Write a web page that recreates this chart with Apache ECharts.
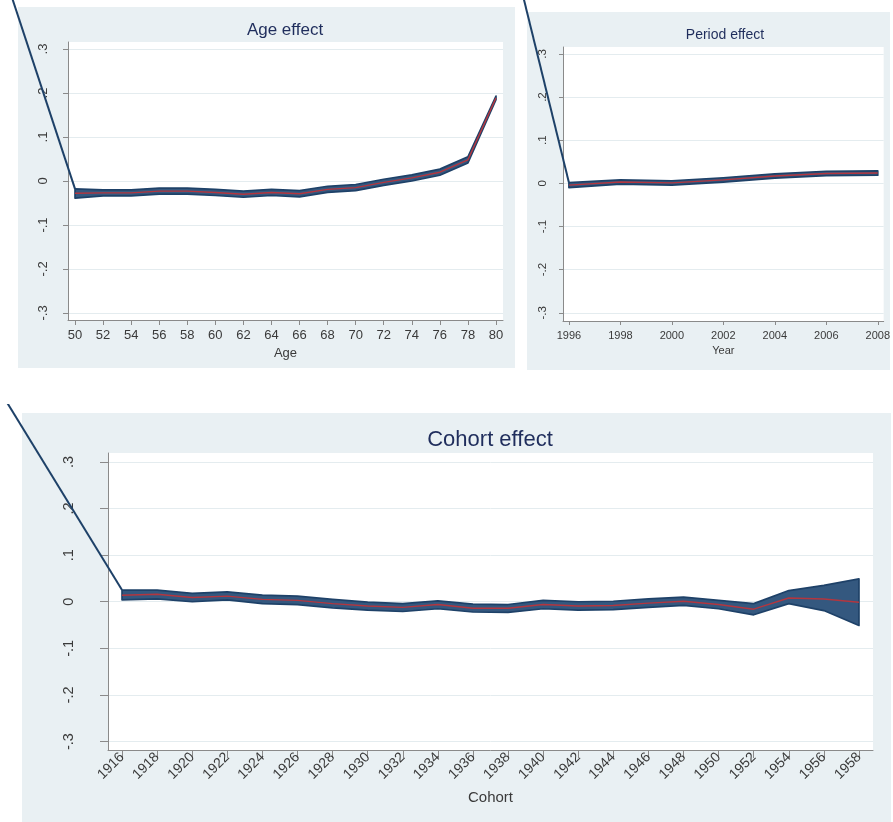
<!DOCTYPE html>
<html>
<head>
<meta charset="utf-8">
<script src="https://cdn.jsdelivr.net/npm/echarts@6/dist/echarts.min.js"></script>
<style>
  html, body { margin: 0; padding: 0; background: #fff; }
  body { width: 893px; height: 822px; position: relative; overflow: hidden; }
  .panel { position: absolute; }
</style>
</head>
<body>
<div id="age" class="panel" style="left:0;top:0;width:520px;height:372px"></div>
<div id="period" class="panel" style="left:520px;top:0;width:373px;height:372px"></div>
<div id="cohort" class="panel" style="left:0;top:404px;width:893px;height:418px"></div>
<script>
// age effect
const ageX = [50, 52, 54, 56, 58, 60, 62, 64, 66, 68, 70, 72, 74, 76, 78, 80];
const ageMid = [-0.028, -0.027, -0.027, -0.023, -0.023, -0.026, -0.030, -0.026, -0.029, -0.019, -0.015, -0.003, 0.007, 0.020, 0.048, 0.189];
const ageHi = [-0.018, -0.020, -0.020, -0.016, -0.016, -0.019, -0.023, -0.019, -0.022, -0.012, -0.008, 0.004, 0.014, 0.027, 0.055, 0.193];
const ageLo = [-0.039, -0.034, -0.034, -0.030, -0.030, -0.033, -0.037, -0.033, -0.036, -0.026, -0.022, -0.010, 0.000, 0.013, 0.041, 0.185];
const ageStray = [[44, 0.563], [50, -0.018]];

// period effect
const periodX = [1996, 1998, 2000, 2002, 2004, 2006, 2008];
const periodMid = [-0.004, 0.003, 0.001, 0.008, 0.017, 0.023, 0.024];
const periodHi = [0.002, 0.008, 0.006, 0.013, 0.022, 0.028, 0.029];
const periodLo = [-0.010, -0.002, -0.004, 0.003, 0.012, 0.018, 0.019];
const periodStray = [[1994, 0.487], [1996, 0.002]];

// cohort effect
const cohortX = [1916, 1918, 1920, 1922, 1924, 1926, 1928, 1930, 1932, 1934, 1936, 1938, 1940, 1942, 1944, 1946, 1948, 1950, 1952, 1954, 1956, 1958];
const cohortMid = [0.014, 0.016, 0.009, 0.012, 0.005, 0.003, -0.004, -0.009, -0.012, -0.006, -0.014, -0.014, -0.006, -0.009, -0.008, -0.003, 0.001, -0.006, -0.016, 0.008, 0.006, -0.001];
const cohortHi = [0.025, 0.025, 0.018, 0.021, 0.014, 0.012, 0.005, -0.001, -0.004, 0.002, -0.005, -0.006, 0.003, 0.000, 0.001, 0.006, 0.010, 0.003, -0.004, 0.024, 0.035, 0.049];
const cohortLo = [0.004, 0.006, 0.000, 0.004, -0.004, -0.006, -0.013, -0.018, -0.021, -0.015, -0.022, -0.023, -0.015, -0.018, -0.017, -0.012, -0.008, -0.015, -0.028, -0.004, -0.019, -0.051];
const cohortStray = [[1908, 0.516], [1916, 0.025]];

const yTicks = [-0.3, -0.2, -0.1, 0, 0.1, 0.2, 0.3];

const FONT = 'Liberation Sans, Arial, sans-serif';
const BG = '#e9f0f3';
const NAVY = '#1e4168';
const BAND = '#34587f';
const RED = '#b3363f';
const AXIS = '#8a8a8a';
const TXT = '#3a3a3a';

function stataNum(v) {
  if (Math.abs(v) < 1e-9) return '0';
  return (v < 0 ? '-' : '') + '.' + Math.round(Math.abs(v) * 10);
}

function build(id, c) {
  const chart = echarts.init(document.getElementById(id));
  chart.setOption({
    animation: false,
    graphic: [
      { type: 'rect', z: -10, silent: true, shape: c.bg, style: { fill: BG } },
      { type: 'text', silent: true, x: c.title.x, y: c.title.y,
        style: { text: c.title.text, fill: '#1f2d5c', font: c.title.size + 'px ' + FONT,
                 textAlign: 'center', textVerticalAlign: 'middle' } }
    ],
    grid: Object.assign({ show: true, backgroundColor: '#fff', borderWidth: 0 }, c.grid),
    xAxis: {
      type: 'value', min: c.xMin, max: c.xMax,
      name: c.xName, nameLocation: 'middle', nameGap: c.nameGap,
      nameTextStyle: { color: TXT, fontSize: c.nameSize, fontFamily: FONT, verticalAlign: 'middle' },
      axisLine: { show: true, onZero: false, lineStyle: { color: AXIS, width: 1 } },
      axisTick: { show: true, length: c.tickLen, customValues: c.x, lineStyle: { color: AXIS } },
      axisLabel: { customValues: c.x, color: TXT, fontSize: c.xFont, fontFamily: FONT,
                   margin: c.xMargin, rotate: c.xRotate || 0, formatter: v => String(v) },
      splitLine: { show: false }
    },
    yAxis: {
      type: 'value', min: c.yMin, max: c.yMax,
      axisLine: { show: true, lineStyle: { color: AXIS, width: 1 } },
      axisTick: { show: true, length: c.tickLen, customValues: yTicks, lineStyle: { color: AXIS } },
      axisLabel: { customValues: yTicks, rotate: 90, color: TXT, fontSize: c.yFont, fontFamily: FONT,
                   margin: c.yMargin, formatter: stataNum },
      splitLine: { show: true, lineStyle: { color: '#e4ecef', width: 1 } }
    },
    series: [
      {
        type: 'custom', silent: true, z: 2,
        data: c.x.map((x, i) => [x, c.lo[i], c.hi[i]]),
        encode: { x: 0, y: [1, 2] },
        renderItem: function (params, api) {
          if (params.dataIndex !== 0) return null;
          const top = c.x.map((x, i) => api.coord([x, c.hi[i]]));
          const bot = c.x.map((x, i) => api.coord([x, c.lo[i]])).reverse();
          return {
            type: 'polygon',
            shape: { points: top.concat(bot) },
            style: { fill: BAND, stroke: NAVY, lineWidth: 1.7, lineJoin: 'round' }
          };
        }
      },
      {
        // edge of the band that runs off the plot region
        type: 'custom', silent: true, z: 3, clip: false,
        data: [c.stray[1]],
        encode: { x: 0, y: 1 },
        renderItem: function (params, api) {
          const pts = c.stray.map(p => api.coord(p));
          return {
            type: 'polyline',
            shape: { points: pts },
            style: { fill: null, stroke: NAVY, lineWidth: 2 }
          };
        }
      },
      {
        type: 'line', silent: true, z: 4, symbol: 'none',
        data: c.x.map((x, i) => [x, c.mid[i]]),
        lineStyle: { color: RED, width: 1.4 }
      }
    ]
  });
}

build('age', {
  x: ageX, mid: ageMid, hi: ageHi, lo: ageLo, stray: ageStray,
  bg: { x: 18, y: 7, width: 497, height: 361 },
  title: { text: 'Age effect', x: 285, y: 30, size: 17 },
  grid: { left: 68, top: 42, width: 435, height: 278 },
  xMin: 49.5, xMax: 80.5, yMin: -0.316, yMax: 0.316,
  xName: 'Age', nameGap: 28, nameSize: 13,
  tickLen: 5, xFont: 13, xMargin: 9, yFont: 13, yMargin: 18
});

build('period', {
  x: periodX, mid: periodMid, hi: periodHi, lo: periodLo, stray: periodStray,
  bg: { x: 7, y: 12, width: 363, height: 358 },
  title: { text: 'Period effect', x: 205, y: 35, size: 14 },
  grid: { left: 43, top: 47, width: 323, height: 274 },
  xMin: 1995.77, xMax: 2008.23, yMin: -0.319, yMax: 0.316,
  xName: 'Year', nameGap: 27, nameSize: 11,
  tickLen: 4, xFont: 11, xMargin: 9, yFont: 11.5, yMargin: 14
});

build('cohort', {
  x: cohortX, mid: cohortMid, hi: cohortHi, lo: cohortLo, stray: cohortStray,
  bg: { x: 22, y: 9, width: 869, height: 409 },
  title: { text: 'Cohort effect', x: 490, y: 36, size: 22 },
  grid: { left: 108, top: 49, width: 765, height: 297 },
  xMin: 1915.2, xMax: 1958.8, yMin: -0.318, yMax: 0.319,
  xName: 'Cohort', nameGap: 48, nameSize: 15,
  tickLen: 8, xFont: 14, xMargin: 5, xRotate: 45, yFont: 14.5, yMargin: 32
});
</script>
</body>
</html>
